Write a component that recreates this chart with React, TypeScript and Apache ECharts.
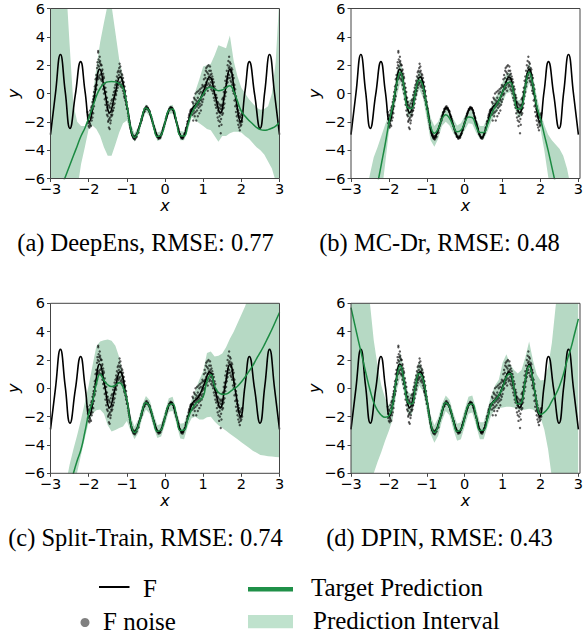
import React, { useEffect, useRef } from "react";
import * as echarts from "echarts";

// ---------- data ----------
const CAPTIONS = [
  "(a) DeepEns, RMSE: 0.77",
  "(b) MC-Dr, RMSE: 0.48",
  "(c) Split-Train, RMSE: 0.74",
  "(d) DPIN, RMSE: 0.43",
];

// true function F (extrema and mid crossings)
const F_X = [
  -3.0, -2.87, -2.74, -2.615, -2.49, -2.35, -2.21, -2.095, -1.98, -1.845, -1.71, -1.58, -1.45, -1.315,
  -1.18, -0.99, -0.8, -0.64, -0.48, -0.32, -0.16, 0.0, 0.16, 0.305, 0.45, 0.59, 0.72, 0.88, 1.02, 1.17,
  1.31, 1.45, 1.575, 1.7, 1.84, 1.98, 2.095, 2.21, 2.35, 2.49, 2.615, 2.74, 2.87, 3.0,
];
const F_Y = [
  -2.9, 0.0, 2.75, 0.15, -2.46, -0.1, 2.25, 0.15, -1.98, -0.13, 1.72, 0.19, -1.35, -0.1,
  1.16, -0.98, -3.12, -2.06, -1.0, -2.06, -3.12, -2.06, -1.0, -2.06, -3.12, -2.2, -1.05, -0.6, 0.25, 1.16,
  -0.1, -1.35, 0.19, 1.72, -0.13, -1.98, 0.15, 2.25, -0.1, -2.46, 0.15, 2.75, 0.0, -2.9,
];

// noisy observations of F
const NOISE: [number, number][] = [
  [-2.03,-1.3],[-2.02,-2.1],[-2.02,-1.8],[-2.0,-2.3],[-2.0,-1.5],[-1.99,-2.0],[-1.98,-1.6],[-1.98,-2.4],[-1.97,-2.1],
  [-1.96,-2.2],[-1.96,-1.2],[-1.95,-1.75],[-1.94,-1.4],[-1.94,-2.3],[-1.93,-1.0],[-1.92,-1.9],[-1.92,-0.9],[-1.91,-1.3],
  [-1.9,-0.6],[-1.9,-1.7],[-1.89,-1.1],[-1.88,-0.4],[-1.88,-1.4],[-1.87,-0.2],[-1.86,0.1],[-1.86,-0.9],[-1.85,-0.5],
  [-1.84,0.5],[-1.84,-0.4],[-1.83,0.3],[-1.82,1.0],[-1.82,-0.2],[-1.81,0.6],[-1.8,1.3],[-1.8,0.3],[-1.79,1.1],
  [-1.78,1.8],[-1.78,0.6],[-1.77,2.2],[-1.76,2.0],[-1.76,1.0],[-1.75,2.9],[-1.74,2.4],[-1.74,1.2],[-1.73,1.9],[-1.75,3.0],
  [-1.72,2.2],[-1.72,1.1],[-1.71,2.6],[-1.7,1.3],[-1.7,2.3],[-1.69,2.1],[-1.68,2.0],[-1.68,1.0],[-1.67,1.4],
  [-1.66,0.9],[-1.66,2.0],[-1.65,1.6],[-1.64,1.7],[-1.64,0.6],[-1.63,1.0],[-1.62,0.3],[-1.62,1.4],[-1.61,1.2],
  [-1.6,1.1],[-1.6,0.0],[-1.59,0.4],[-1.58,-0.4],[-1.58,0.7],[-1.57,0.1],[-1.56,0.4],[-1.56,-0.8],[-1.55,-0.3],
  [-1.54,-1.2],[-1.54,0.1],[-1.53,-0.6],[-1.52,-0.3],[-1.52,-1.5],[-1.51,-1.0],[-1.5,-1.6],[-1.5,-0.6],[-1.49,-2.0],
  [-1.48,-0.8],[-1.48,-1.9],[-1.47,-1.4],[-1.47,-2.4],[-1.46,-1.8],[-1.46,-0.9],[-1.45,-2.5],[-1.44,-1.0],[-1.44,-1.7],[-1.43,-2.1],
  [-1.42,-0.7],[-1.42,-1.9],[-1.41,-1.5],[-1.4,-1.6],[-1.4,-0.5],[-1.39,-1.3],[-1.38,-0.4],[-1.38,-1.5],[-1.37,-1.2],
  [-1.36,-1.2],[-1.36,-0.1],[-1.35,-0.8],[-1.34,0.1],[-1.34,-1.0],[-1.33,-0.3],[-1.32,-0.7],[-1.32,0.4],[-1.31,0.2],
  [-1.3,0.6],[-1.3,-0.4],[-1.29,0.0],[-1.28,0.9],[-1.28,-0.1],[-1.27,0.7],[-1.26,0.2],[-1.26,1.2],[-1.25,0.8],
  [-1.24,1.5],[-1.24,0.4],[-1.23,1.1],[-1.22,0.6],[-1.22,1.6],[-1.21,1.3],[-1.2,1.8],[-1.2,0.7],[-1.19,2.1],
  [-1.18,0.8],[-1.18,1.5],[-1.17,1.9],[-1.16,0.5],[-1.16,1.6],[-1.15,1.2],[-1.14,1.4],[-1.14,0.6],[-1.13,0.9],
  [-1.12,0.4],[-1.12,1.3],[-1.11,0.7],[-1.1,1.1],[-1.1,0.2],[-1.09,0.5],[-1.08,0.0],[-1.08,0.8],[-1.07,-0.2],
  [-1.06,-0.3],[-1.06,0.5],[-1.05,0.1],[-1.04,-0.5],[-1.04,0.2],[-1.02,-0.8],[-1.02,-0.2],[-1.0,-1.1],[-1.0,-0.6],
  [-0.98,-1.05],[-0.97,-1.4],[-0.96,-1.6],[-0.95,-1.75],[-0.94,-1.9],[-0.93,-2.05],[-0.92,-2.2],[-0.91,-2.4],[-0.9,-2.5],
  [-0.89,-2.55],[-0.88,-2.7],[-0.87,-2.8],[-0.86,-2.95],[-0.85,-2.9],[-0.84,-3.05],[-0.83,-3.15],[-0.82,-3.0],[-0.81,-3.2],
  [-0.8,-3.1],[-0.79,-3.25],[-0.78,-3.0],[-0.77,-3.15],[-0.76,-3.0],[-0.75,-2.9],[-0.74,-3.05],[-0.72,-2.8],[-0.7,-2.6],
  [-0.69,-2.75],[-0.68,-2.45],[-0.66,-2.3],[-0.65,-2.15],[-0.64,-2.1],[-0.62,-1.8],[-0.61,-1.9],[-0.6,-1.6],[-0.58,-1.5],
  [-0.57,-1.35],[-0.56,-1.3],[-0.54,-1.1],[-0.53,-1.25],[-0.52,-1.05],[-0.5,-0.95],[-0.49,-1.1],[-0.48,-0.9],[-0.46,-1.05],
  [-0.45,-1.0],[-0.44,-1.15],[-0.42,-1.2],[-0.41,-1.3],[-0.4,-1.25],[-0.38,-1.5],[-0.37,-1.6],[-0.36,-1.65],[-0.34,-1.8],
  [-0.33,-1.95],[-0.32,-2.1],[-0.3,-2.3],[-0.29,-2.35],[-0.28,-2.5],[-0.26,-2.6],[-0.25,-2.75],[-0.24,-2.8],[-0.22,-2.9],
  [-0.21,-3.05],[-0.2,-3.0],[-0.18,-3.1],[-0.17,-3.2],[-0.16,-3.05],[-0.14,-3.15],[-0.13,-3.0],[-0.12,-3.1],[-0.1,-2.95],
  [-0.09,-2.85],[-0.08,-2.8],[-0.06,-2.6],[-0.05,-2.55],[-0.04,-2.4],[-0.02,-2.3],[-0.01,-2.15],[0.0,-2.05],[0.02,-1.8],
  [0.03,-1.75],[0.04,-1.6],[0.06,-1.45],[0.07,-1.4],[0.08,-1.3],[0.1,-1.2],[0.11,-1.1],[0.12,-1.15],[0.14,-1.0],
  [0.15,-0.95],[0.16,-1.1],[0.18,-1.0],[0.19,-1.05],[0.2,-1.15],[0.22,-1.2],[0.23,-1.35],[0.24,-1.4],[0.26,-1.6],
  [0.27,-1.7],[0.28,-1.75],[0.3,-2.0],[0.31,-2.1],[0.32,-2.25],[0.34,-2.45],[0.35,-2.5],[0.36,-2.7],[0.38,-2.85],
  [0.39,-2.9],[0.4,-2.95],[0.42,-3.05],[0.43,-3.15],[0.44,-3.1],[0.46,-3.2],[0.47,-3.05],[0.48,-3.1],[0.5,-2.95],
  [0.51,-2.85],[0.52,-2.8],[0.54,-2.6],[0.55,-2.45],[0.56,-2.4],[0.58,-2.15],[0.59,-2.0],[0.6,-1.95],[0.62,-1.7],
  [0.63,-1.55],[0.64,-1.45],[0.66,-1.3],[0.67,-1.2],[0.68,-1.15],[0.7,-1.1],
  [0.72,-0.6],[0.72,-1.5],[0.73,-1.1],[0.74,-1.9],[0.74,-0.7],[0.75,-1.2],[0.76,-0.3],[0.76,-1.4],[0.77,-0.9],
  [0.78,-1.6],[0.78,-0.4],[0.79,-1.0],[0.8,0.0],[0.8,-1.3],[0.81,-0.7],[0.82,-1.9],[0.82,-0.5],[0.83,-0.9],
  [0.84,0.1],[0.84,-1.2],[0.85,-0.6],[0.86,-1.6],[0.86,-0.3],[0.87,-0.8],[0.88,0.2],[0.88,-1.0],[0.89,-0.5],
  [0.9,-1.4],[0.9,0.0],[0.91,-0.7],[0.92,0.3],[0.92,-0.9],[0.93,-0.4],[0.94,-1.2],[0.94,0.1],[0.95,-0.5],
  [0.96,0.4],[0.96,-0.8],[0.97,-0.2],[0.98,0.6],[0.98,-0.6],[0.99,0.0],[1.0,0.5],[1.0,-0.4],[1.01,0.2],
  [1.02,1.0],[1.02,-0.1],[1.03,0.5],[1.04,1.3],[1.04,0.0],[1.05,0.6],[1.06,1.1],[1.06,0.3],[1.07,1.6],
  [1.08,0.8],[1.08,1.8],[1.09,0.4],[1.1,1.5],[1.1,0.6],[1.11,1.9],[1.12,1.0],[1.12,0.2],[1.13,1.4],
  [1.14,2.0],[1.14,0.7],[1.15,1.2],[1.16,1.6],[1.16,0.5],[1.17,1.0],[1.18,1.9],[1.18,0.6],[1.19,1.3],
  [1.2,0.8],[1.2,1.6],[1.21,0.3],[1.22,1.4],[1.22,0.5],[1.23,1.0],[1.24,0.2],[1.24,1.2],[1.25,0.7],
  [1.26,0.0],[1.26,1.0],[1.27,0.4],[1.28,-0.3],[1.28,0.8],[1.29,0.2],[1.3,-0.5],[1.3,0.5],[1.31,-0.1],
  [1.32,-0.8],[1.32,0.3],[1.33,-0.3],[1.34,-1.0],[1.34,-0.1],[1.35,-0.6],[1.36,-1.4],[1.36,-0.3],[1.37,-0.9],
  [1.38,-1.7],[1.38,-0.6],[1.39,-1.2],[1.4,-0.7],[1.4,-1.9],[1.41,-1.3],[1.42,-2.3],[1.42,-1.0],[1.43,-1.6],
  [1.44,-0.8],[1.44,-2.0],[1.45,-1.4],[1.46,-2.8],[1.46,-1.1],[1.47,-1.8],[1.47,-0.9],[1.48,-2.2],[1.48,-1.3],[1.49,-0.8],
  [1.5,-1.5],[1.5,-0.4],[1.51,-1.1],[1.52,-0.3],[1.52,-1.4],[1.53,-0.8],[1.54,0.1],[1.54,-1.0],[1.55,-0.4],
  [1.56,0.4],[1.56,-0.7],[1.57,0.0],[1.58,0.9],[1.58,-0.2],[1.59,0.4],[1.6,1.2],[1.6,0.1],[1.61,0.7],
  [1.62,1.6],[1.62,0.5],[1.63,1.0],[1.64,2.0],[1.64,0.8],[1.65,1.4],[1.66,2.3],[1.66,1.1],[1.67,1.8],
  [1.68,1.3],[1.68,2.6],[1.69,1.9],[1.7,2.2],[1.7,1.1],[1.71,1.6],[1.72,2.1],[1.72,0.9],[1.73,1.5],
  [1.74,1.8],[1.74,0.8],[1.75,1.2],[1.76,0.6],[1.76,1.7],[1.77,1.0],[1.78,1.3],[1.78,0.2],[1.79,0.7],
  [1.8,0.0],[1.8,1.1],[1.81,0.4],[1.82,-0.5],[1.82,0.6],[1.83,0.0],[1.84,-0.9],[1.84,0.3],[1.85,-0.4],
  [1.86,-1.3],[1.86,-0.2],[1.87,-0.8],[1.88,-1.6],[1.88,-0.5],[1.89,-1.1],[1.9,-1.9],[1.9,-0.9],[1.91,-1.5],
  [1.92,-2.2],[1.92,-1.2],[1.93,-1.7],[1.94,-2.4],[1.94,-1.4],[1.95,-2.0],[1.96,-1.6],[1.96,-2.6],[1.97,-2.1],
  [1.98,-1.7],[1.98,-2.3],[1.99,-2.0],[2.0,-1.5],[2.0,-2.2],[2.01,-1.9],[2.02,-1.4],[2.02,-2.0],
];

// common x grid of the predictions
const BAND_X = [
  -3.0, -2.9, -2.8, -2.7, -2.6, -2.5, -2.4, -2.3, -2.2, -2.1, -2.0, -1.9, -1.8, -1.7, -1.6, -1.5, -1.4, -1.3, -1.2, -1.1, -1.0,
  -0.9, -0.8, -0.7, -0.6, -0.5, -0.4, -0.3, -0.2, -0.1, 0.0, 0.1, 0.2, 0.3, 0.4, 0.5, 0.6, 0.7,
  0.8, 0.9, 1.0, 1.1, 1.2, 1.3, 1.4, 1.5, 1.6, 1.7, 1.8, 1.9, 2.0, 2.1, 2.2, 2.3, 2.4, 2.5, 2.6, 2.7, 2.8, 2.9, 3.0,
];

// (a) DeepEns
const MEAN_A = [
  -8.8, -8.0, -7.2, -6.5, -5.8, -5.1, -4.4, -3.7, -3.0, -2.45, -1.75, -1.0, -0.2, 0.37, 0.7, 0.82, 0.85, 0.82, 0.7, 0.4, -0.8,
  -2.43, -3.1, -2.65, -1.66, -1.02, -1.31, -2.27, -3.04, -2.94, -2.06, -1.18, -1.1, -2.0, -2.97, -3.0, -2.2, -1.4,
  -0.9, -0.5, -0.05, 0.35, 0.45, 0.3, 0.2, 0.25, 0.42, 0.55, 0.15, -0.55, -1.25, -1.6, -1.9, -2.15, -2.4, -2.55, -2.6, -2.55, -2.45, -2.3, -2.05,
];
const UPPER_A = [
  9, 9, 9, 9, 8, 3.5, -0.8, -2.0, -2.3, -2.3, -1.6, -0.3, 1.8, 3.6, 5.0, 6.3, 6.2, 4.3, 2.4, 1.2, -0.45,
  -2.1, -2.8, -2.35, -1.35, -0.75, -1.05, -1.95, -2.75, -2.65, -1.75, -0.9, -0.8, -1.7, -2.65, -2.7, -1.9, -1.0,
  0.2, 1.0, 1.9, 2.0, 2.1, 2.7, 3.4, 3.3, 3.2, 4.1, 2.3, 1.2, 0.4, 0.0, -0.4, -0.7, -1.0, -1.15, -1.1, -0.9, 0.0, 2.2, 7.0,
];
const LOWER_A = [
  -10, -10, -10, -10, -10, -9, -8, -6.8, -5.0, -3.8, -2.5, -2.25, -2.5, -3.0, -3.8, -4.4, -4.4, -3.6, -2.75, -2.1, -1.9,
  -2.75, -3.4, -2.95, -1.95, -1.3, -1.6, -2.55, -3.35, -3.25, -2.35, -1.45, -1.4, -2.3, -3.3, -3.3, -2.6, -1.65,
  -1.9, -2.1, -2.3, -2.5, -2.6, -3.0, -3.4, -3.0, -3.0, -2.8, -2.7, -2.7, -2.75, -3.0, -3.2, -3.5, -3.8, -4.0, -4.3, -4.8, -5.3, -6.2, -8,
];

// (b) MC-Dr
const MEAN_B = [
  -16, -14.6, -13.2, -11.8, -10.4, -9.2, -7.8, -6.4, -5.0, -3.6, -2.1, -0.9, 0.6, 1.5, 0.45, -1.0, -1.05, 0.1, 0.95, 0.5, -1.0,
  -2.3, -2.8, -2.5, -1.8, -1.5, -1.75, -2.3, -2.7, -2.6, -2.1, -1.65, -1.7, -2.3, -2.75, -2.75, -2.2, -1.5,
  -0.95, -0.5, 0.1, 0.7, 0.8, -0.1, -1.1, -1.0, 0.5, 1.5, 0.6, -0.9, -1.8, -2.9, -4.0, -5.2, -6.4, -7.6, -8.8, -10, -11, -12, -13,
];
const UPPER_B = [
  -12, -11, -10, -8.5, -7, -5.7, -4.5, -3.8, -3.0, -2.2, -1.5, -0.4, 1.5, 2.3, 1.2, -0.5, -0.4, 0.8, 1.6, 1.1, -0.3,
  -1.7, -2.3, -2.0, -1.3, -1.0, -1.25, -1.8, -2.25, -2.1, -1.6, -1.15, -1.2, -1.8, -2.3, -2.3, -1.7, -0.9,
  -0.3, 0.1, 0.8, 1.4, 1.5, 0.6, -0.5, -0.4, 1.2, 2.2, 1.3, -0.2, -1.3, -2.2, -2.9, -3.3, -3.6, -3.9, -4.4, -5.3, -6.6, -8, -9,
];
const LOWER_B = [
  -20, -18, -16.5, -15, -13.5, -12, -10.5, -9, -7.2, -5.0, -2.7, -1.6, -0.3, 0.8, -0.4, -1.7, -1.6, -0.5, 0.3, -0.3, -1.8,
  -3.3, -3.75, -3.2, -2.3, -2.0, -2.25, -2.8, -3.2, -3.1, -2.6, -2.1, -2.15, -2.75, -3.2, -3.25, -2.7, -2.0,
  -1.5, -1.1, -0.6, 0.0, 0.1, -0.8, -1.7, -1.6, -0.2, 0.8, -0.1, -1.6, -2.5, -4.0, -5.8, -7.5, -9, -10.5, -12, -13.5, -15, -16, -17,
];

// (c) Split-Train
const MEAN_C = [
  -14, -13, -11.5, -10, -8.5, -7.0, -6.0, -5.1, -4.3, -3.1, -1.8, -0.95, 0.3, 1.0, 0.55, 0.25, 0.12, 0.2, 0.4, 0.1, -0.8,
  -2.43, -3.12, -2.65, -1.66, -1.02, -1.31, -2.27, -3.04, -2.94, -2.06, -1.18, -1.1, -2.0, -2.97, -2.95, -2.15, -1.5,
  -1.1, -0.85, -0.6, 0.5, 0.95, 0.15, -0.3, -0.42, -0.4, -0.25, -0.05, 0.15, 0.45, 0.8, 1.2, 1.6, 2.1, 2.55, 3.05, 3.6, 4.15, 4.75, 5.35,
];
const UPPER_C = [
  -11, -10, -9, -8, -6.8, -5.4, -4.3, -3.3, -2.2, -1.0, 0.2, 1.6, 2.95, 3.3, 3.4, 3.45, 3.35, 3.0, 2.2, 1.1, -0.3,
  -1.95, -2.7, -2.2, -1.2, -0.55, -0.85, -1.8, -2.6, -2.5, -1.6, -0.7, -0.6, -1.55, -2.5, -2.45, -1.6, -0.8,
  -0.1, 0.6, 1.2, 2.5, 2.6, 2.25, 2.3, 2.45, 2.9, 3.5, 4.0, 4.6, 5.2, 5.8, 6.6, 7.3, 8.0, 8.6, 9.2, 9.8, 10.4, 11, 11.6,
];
const LOWER_C = [
  -20, -18.5, -17, -15, -12, -10, -7.5, -5.9, -4.7, -3.5, -2.4, -1.8, -1.55, -1.5, -1.8, -2.6, -3.05, -2.95, -2.8, -2.7, -2.3,
  -3.0, -3.6, -3.15, -2.15, -1.5, -1.8, -2.75, -3.5, -3.4, -2.55, -1.65, -1.6, -2.5, -3.55, -3.6, -2.65, -2.1,
  -2.0, -2.2, -2.2, -2.05, -2.0, -2.35, -2.6, -2.8, -3.0, -3.2, -3.4, -3.6, -3.8, -4.0, -4.2, -4.4, -4.55, -4.7, -4.75, -4.8, -4.82, -4.85, -4.87,
];

// (d) DPIN
const MEAN_D = [
  5.7, 4.5, 3.3, 2.15, 1.0, -0.1, -1.0, -1.55, -1.9, -2.05, -1.95, -1.15, 0.65, 1.6, 0.5, -1.0, -1.1, 0.1, 1.05, 0.65, -0.8,
  -2.43, -3.12, -2.65, -1.66, -1.02, -1.31, -2.27, -3.04, -2.94, -2.06, -1.18, -1.1, -2.0, -2.97, -2.95, -2.15, -1.15,
  -0.85, -0.5, 0.05, 0.8, 1.05, 0.05, -1.1, -1.0, 0.6, 1.6, 0.6, -1.0, -1.85, -1.7, -1.4, -0.9, -0.45, 0.15, 0.95, 1.95, 2.8, 3.85, 4.9,
];
const UPPER_D = [
  12, 11, 10, 9, 7.5, 6.0, 3.4, 1.6, 0.2, -0.7, -1.2, -0.4, 1.4, 2.5, 1.3, -0.3, -0.4, 0.9, 1.9, 1.3, -0.2,
  -1.9, -2.6, -2.1, -1.1, -0.5, -0.8, -1.75, -2.5, -2.4, -1.5, -0.6, -0.5, -1.45, -2.4, -2.4, -1.5, -0.5,
  0.2, 0.6, 1.8, 2.4, 1.7, 1.3, 1.05, 1.3, 2.2, 3.3, 2.0, 1.0, 0.55, 0.6, 1.5, 3.2, 5.8, 8, 9.5, 11, 12, 13, 14,
];
const LOWER_D = [
  -14, -13, -11.5, -10, -8.5, -7.2, -6.0, -5.2, -4.5, -3.7, -3.0, -2.2, -0.2, 0.8, -0.3, -1.8, -1.9, -0.7, 0.2, -0.2, -1.6,
  -3.2, -3.85, -3.35, -2.3, -1.6, -1.9, -2.9, -3.7, -3.6, -2.7, -1.8, -1.7, -2.6, -3.6, -3.6, -2.7, -1.9,
  -1.5, -1.4, -1.35, -1.3, -1.3, -1.35, -1.5, -1.55, -1.5, -1.45, -1.5, -1.7, -2.05, -2.9, -4.3, -6.3, -8, -9.5, -11, -12, -13, -14, -15,
];

const LEGEND_LABELS = ["F", "F noise", "Target Prediction", "Prediction Interval"];

// ---------- styling / layout ----------
const GREEN = "#1b8a42";
const BAND = "#b6d9c4";
const BAND_LEGEND = "#bfe2cd";
const FRAME = "#444";
const SANS = "DejaVu Sans";
const SERIF = "Liberation Serif";

const PW = 229;
const PH = 170;
const GRIDS = [
  { left: 50.5, top: 8.5 },
  { left: 351, top: 8.5 },
  { left: 50.5, top: 303.3 },
  { left: 351, top: 303.3 },
];
const CAPTION_X = [145.5, 439.5, 145.5, 439.5];

const minus = (v: number) => (v < 0 ? "\u2212" + Math.abs(v) : String(v));

export default function App() {
  const ref = useRef<HTMLDivElement>(null);

  useEffect(() => {
    document.body.style.margin = "0";
    if (!ref.current) return;
    const chart = echarts.init(ref.current, undefined, { renderer: "svg" });

    const panels = [
      { mean: MEAN_A, upper: UPPER_A, lower: LOWER_A },
      { mean: MEAN_B, upper: UPPER_B, lower: LOWER_B },
      { mean: MEAN_C, upper: UPPER_C, lower: LOWER_C },
      { mean: MEAN_D, upper: UPPER_D, lower: LOWER_D },
    ];

    const series: any[] = [];
    panels.forEach((p, i) => {
      const common = { xAxisIndex: i, yAxisIndex: i, silent: true, symbol: "none" };
      // prediction interval: one polygon, upper edge then lower edge reversed
      series.push({
        type: "custom",
        xAxisIndex: i,
        yAxisIndex: i,
        silent: true,
        clip: true,
        z: 1,
        data: BAND_X.map((x, k) => [x, p.lower[k], p.upper[k]]),
        encode: { x: 0, y: [1, 2] },
        renderItem: (params: any, api: any) => {
          if (params.dataIndex !== 0) return null;
          const pts: number[][] = [];
          for (let k = 0; k < BAND_X.length; k++) pts.push(api.coord([BAND_X[k], p.upper[k]]));
          for (let k = BAND_X.length - 1; k >= 0; k--) pts.push(api.coord([BAND_X[k], p.lower[k]]));
          const cs = params.coordSys;
          return {
            type: "polygon",
            shape: { points: pts },
            style: { fill: BAND, stroke: "none" },
            clipPath: { type: "rect", shape: { x: cs.x, y: cs.y, width: cs.width, height: cs.height } },
          };
        },
      });
      series.push({
        xAxisIndex: i,
        yAxisIndex: i,
        silent: true,
        type: "scatter",
        data: NOISE,
        symbol: "circle",
        symbolSize: 2.4,
        itemStyle: { color: "rgba(0,0,0,0.8)" },
        z: 2,
      });
      series.push({
        ...common,
        type: "line",
        smooth: true,
        data: F_X.map((x, k) => [x, F_Y[k]]),
        lineStyle: { color: "#000", width: 1.6 },
        z: 3,
      });
      series.push({
        ...common,
        type: "line",
        smooth: true,
        data: BAND_X.map((x, k) => [x, p.mean[k]]),
        lineStyle: { color: GREEN, width: 1.5 },
        z: 4,
      });
    });

    const graphic: any[] = [];
    GRIDS.forEach((g, i) => {
      graphic.push({
        type: "rect",
        shape: { x: g.left, y: g.top, width: PW, height: PH },
        style: { fill: "none", stroke: FRAME, lineWidth: 1 },
        z: 100,
        silent: true,
      });
      graphic.push({
        type: "text",
        x: g.left + PW / 2,
        y: g.top + PH + 27,
        style: { text: "x", fontSize: 16, lineHeight: 11, fontFamily: SANS, fontStyle: "italic", fill: "#000", align: "center", verticalAlign: "middle" },
        z: 100,
      });
      graphic.push({
        type: "text",
        x: g.left - 37,
        y: g.top + PH / 2,
        rotation: Math.PI / 2,
        style: { text: "y", fontSize: 16, fontFamily: SANS, fontStyle: "italic", fill: "#000", align: "center", verticalAlign: "middle" },
        z: 100,
      });
      graphic.push({
        type: "text",
        x: CAPTION_X[i],
        y: g.top + 234,
        style: { text: CAPTIONS[i], fontSize: 24.5, fontFamily: SERIF, fill: "#000", align: "center", verticalAlign: "middle" },
        z: 100,
      });
    });

    // legend
    const legTxt = (text: string, x: number, y: number) => ({
      type: "text",
      x,
      y,
      style: { text, fontSize: 25, fontFamily: SERIF, fill: "#000", align: "left", verticalAlign: "middle" },
      z: 100,
    });
    graphic.push({ type: "line", shape: { x1: 99, y1: 587, x2: 129.5, y2: 587 }, style: { stroke: "#000", lineWidth: 2 }, z: 100 });
    graphic.push(legTxt(LEGEND_LABELS[0], 143, 588.3));
    graphic.push({ type: "circle", shape: { cx: 85, cy: 622.5, r: 4.5 }, style: { fill: "#808080" }, z: 100 });
    graphic.push(legTxt(LEGEND_LABELS[1], 103, 621.5));
    graphic.push({ type: "line", shape: { x1: 248, y1: 589.3, x2: 293, y2: 589.3 }, style: { stroke: "#1f9048", lineWidth: 4.5 }, z: 100 });
    graphic.push(legTxt(LEGEND_LABELS[2], 311, 587.7));
    graphic.push({ type: "rect", shape: { x: 248, y: 615, width: 45, height: 13.3 }, style: { fill: BAND_LEGEND }, z: 100 });
    graphic.push(legTxt(LEGEND_LABELS[3], 313, 620));

    const axisCommon = {
      axisLine: { show: false, onZero: false },
      axisTick: { show: true, inside: false, length: 3.5, lineStyle: { color: FRAME, width: 1 } },
      splitLine: { show: false },
    };

    chart.setOption({
      animation: false,
      grid: GRIDS.map((g) => ({ left: g.left, top: g.top, width: PW, height: PH, show: false, containLabel: false })),
      xAxis: GRIDS.map((_, i) => ({
        type: "value",
        gridIndex: i,
        position: "bottom",
        min: -3,
        max: 3,
        interval: 1,
        ...axisCommon,
        axisLabel: { fontSize: 14.5, lineHeight: 13, fontFamily: SANS, color: "#000", margin: 4, formatter: minus, showMinLabel: true, showMaxLabel: true },
      })),
      yAxis: GRIDS.map((_, i) => ({
        type: "value",
        gridIndex: i,
        position: "left",
        min: -6,
        max: 6,
        interval: 2,
        ...axisCommon,
        axisLabel: { fontSize: 14.5, fontFamily: SANS, color: "#000", margin: 5.5, formatter: minus, showMinLabel: true, showMaxLabel: true },
      })),
      series,
      graphic,
    });

    return () => chart.dispose();
  }, []);

  return <div ref={ref} style={{ width: 586, height: 634 }} />;
}
